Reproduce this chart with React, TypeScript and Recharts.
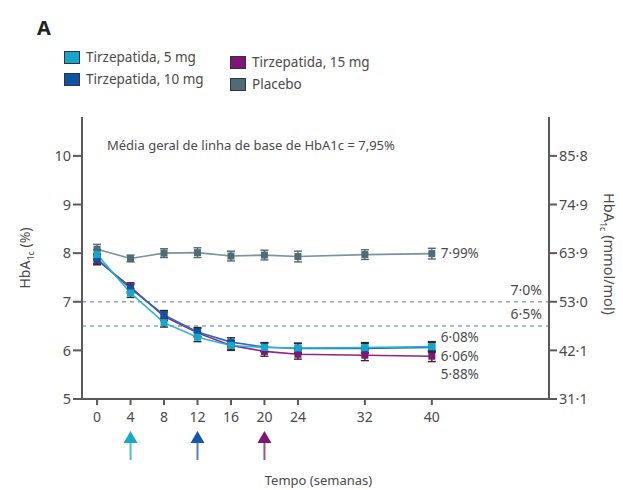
import React from "react";
import {
  ComposedChart,
  ErrorBar,
  LabelList,
  Line,
  ReferenceLine,
  XAxis,
  YAxis,
} from "recharts";

// semanas de tratamento
const WEEKS = [0, 4, 8, 12, 16, 20, 24, 32, 40];

// HbA1c média (%) por braço
const PLACEBO = [8.08, 7.89, 8.0, 8.01, 7.94, 7.96, 7.93, 7.97, 7.99];
const TZP_5 = [7.97, 7.18, 6.57, 6.27, 6.1, 6.06, 6.05, 6.06, 6.08];
const TZP_10 = [7.88, 7.27, 6.73, 6.38, 6.17, 6.07, 6.04, 6.04, 6.06];
const TZP_15 = [7.86, 7.3, 6.7, 6.36, 6.1, 5.98, 5.92, 5.9, 5.88];

// erro padrão (±)
const PLACEBO_ERR = [0.1, 0.07, 0.09, 0.1, 0.1, 0.1, 0.11, 0.1, 0.11];
const TZP_5_ERR = [0.1, 0.09, 0.09, 0.09, 0.09, 0.09, 0.1, 0.1, 0.1];
const TZP_10_ERR = [0.1, 0.09, 0.09, 0.09, 0.09, 0.09, 0.1, 0.1, 0.1];
const TZP_15_ERR = [0.1, 0.09, 0.09, 0.09, 0.1, 0.1, 0.1, 0.11, 0.11];

const LEFT_TICKS = [5, 6, 7, 8, 9, 10];
const RIGHT_TICK_LABELS = ["31·1", "42·1", "53·0", "63·9", "74·9", "85·8"];
const X_TICKS = WEEKS;

// semanas em que cada dose foi atingida
const ARROW_WEEKS = [4, 12, 20];
const ARROW_COLORS = ["#1aa6cb", "#1558a3", "#7f1675"];

const TARGET_LINES = [7.0, 6.5];
const TARGET_LABELS = ["7·0%", "6·5%"];

const FONT = "'Noto Sans', 'Open Sans', sans-serif";
const TEXT = "#4a4a4a";
const AXIS = "#5a5a5a";

const SERIES = [
  { key: "p", name: "Placebo", color: "#4f6b74", line: "#78939b", values: PLACEBO, err: PLACEBO_ERR, end: "7·99%", dy: 0 },
  { key: "t15", name: "Tirzepatida, 15 mg", color: "#7f1675", line: "#8e2483", values: TZP_15, err: TZP_15_ERR, end: "5·88%", dy: 18 },
  { key: "t10", name: "Tirzepatida, 10 mg", color: "#0d55a3", line: "#2a6bb4", values: TZP_10, err: TZP_10_ERR, end: "6·06%", dy: 9 },
  { key: "t5", name: "Tirzepatida, 5 mg", color: "#17a6cb", line: "#29b2d4", values: TZP_5, err: TZP_5_ERR, end: "6·08%", dy: -9 },
];

const LEGEND_LEFT = ["t5", "t10"];
const LEGEND_RIGHT = ["t15", "p"];

const rows = WEEKS.map((w, i) => {
  const row: Record<string, number> = { week: w };
  for (const s of SERIES) {
    row[s.key] = s.values[i];
    row[s.key + "_err"] = s.err[i];
  }
  return row;
});

function squareDot(color: string) {
  return (props: any) => {
    const { cx, cy, index } = props;
    if (cx == null || cy == null) return <g key={index} />;
    return <rect key={index} x={cx - 3.5} y={cy - 3.5} width={7} height={7} fill={color} />;
  };
}

function endLabel(text: string, dy: number) {
  return (props: any) => {
    const { x, y, index } = props;
    if (index !== WEEKS.length - 1) return null;
    return (
      <text x={Number(x) + 9} y={Number(y) + dy} dy="0.35em" fontSize={13.5} fill={TEXT} fontFamily={FONT}>
        {text}
      </text>
    );
  };
}

function WeekTick(props: any) {
  const { x, y, payload } = props;
  const i = ARROW_WEEKS.indexOf(payload.value);
  return (
    <g>
      <text x={x} y={y + 15} textAnchor="middle" fontSize={14} fill={TEXT} fontFamily={FONT}>
        {payload.value}
      </text>
      {i >= 0 ? (
        <g>
          <line x1={x} x2={x} y1={y + 33} y2={y + 53} stroke={ARROW_COLORS[i]} strokeWidth={2} opacity={0.75} />
          <polygon points={`${x - 7},${y + 36} ${x + 7},${y + 36} ${x},${y + 24}`} fill={ARROW_COLORS[i]} />
        </g>
      ) : null}
    </g>
  );
}

function LeftTitle(props: any) {
  const { viewBox } = props;
  const cx = 25;
  const cy = viewBox.y + viewBox.height / 2;
  return (
    <text x={cx} y={cy} transform={`rotate(-90 ${cx} ${cy})`} textAnchor="middle" dy="0.35em" fontSize={14} fill={TEXT} fontFamily={FONT}>
      HbA<tspan fontSize={9} dy={4}>1c</tspan>
      <tspan dy={-4}> (%)</tspan>
    </text>
  );
}

function RightTitle(props: any) {
  const { viewBox } = props;
  const cx = 609;
  const cy = viewBox.y + viewBox.height / 2 - 4;
  return (
    <text x={cx} y={cy} transform={`rotate(90 ${cx} ${cy})`} textAnchor="middle" dy="0.35em" fontSize={14.5} fill={TEXT} fontFamily={FONT}>
      HbA<tspan fontSize={9} dy={4}>1c</tspan>
      <tspan dy={-4}> (mmol/mol)</tspan>
    </text>
  );
}

function BottomTitle(props: any) {
  const { viewBox } = props;
  return (
    <text x={viewBox.x + viewBox.width / 2 + 3} y={viewBox.y + 86} textAnchor="middle" fontSize={13} fill={TEXT} fontFamily={FONT}>
      Tempo (semanas)
    </text>
  );
}

function LegendItem({ k }: { k: string }) {
  const s = SERIES.find((d) => d.key === k)!;
  return (
    <div style={{ display: "flex", alignItems: "center", height: 22 }}>
      <span style={{ width: 16, height: 13, background: s.color, border: "1px solid #333", boxSizing: "border-box", marginRight: 6 }} />
      <span style={{ fontSize: 13.5, color: TEXT }}>{s.name}</span>
    </div>
  );
}

export default function App() {
  const tickStyle = { fontSize: 14.5, fill: TEXT, fontFamily: FONT };
  return (
    <div style={{ position: "absolute", left: 0, top: 0, width: 623, height: 490, background: "#fff", fontFamily: FONT }}>
      <div style={{ position: "absolute", left: 37, top: 14, fontSize: 20, fontWeight: 700, color: "#222" }}>A</div>
      <div style={{ position: "absolute", left: 64, top: 46 }}>
        {LEGEND_LEFT.map((k) => (
          <LegendItem key={k} k={k} />
        ))}
      </div>
      <div style={{ position: "absolute", left: 230, top: 51 }}>
        {LEGEND_RIGHT.map((k) => (
          <LegendItem key={k} k={k} />
        ))}
      </div>
      <div style={{ position: "absolute", left: 107, top: 136, fontSize: 13, color: TEXT }}>
        Média geral de linha de base de HbA1c = 7,95%
      </div>
      <ComposedChart
        width={623}
        height={490}
        data={rows}
        margin={{ top: 117, right: 14, bottom: 61, left: 22 }}
      >
        <XAxis
          dataKey="week"
          type="number"
          domain={[-1.8, 54]}
          ticks={X_TICKS}
          allowDataOverflow
          tickSize={6}
          height={30}
          stroke={AXIS}
          strokeWidth={2}
          tick={<WeekTick />}
          label={<BottomTitle />}
        />
        <YAxis
          yAxisId="l"
          domain={[5, 10.8]}
          ticks={LEFT_TICKS}
          allowDataOverflow
          width={60}
          tickSize={9}
          stroke={AXIS}
          strokeWidth={2}
          tick={tickStyle}
          label={<LeftTitle />}
        />
        <YAxis
          yAxisId="r"
          orientation="right"
          domain={[5, 10.8]}
          ticks={LEFT_TICKS}
          allowDataOverflow
          width={60}
          tickSize={8}
          stroke={AXIS}
          strokeWidth={2}
          tick={tickStyle}
          tickFormatter={(v: number) => RIGHT_TICK_LABELS[LEFT_TICKS.indexOf(v)] ?? ""}
          label={<RightTitle />}
        />
        {TARGET_LINES.map((v, i) => (
          <ReferenceLine
            key={v}
            yAxisId="l"
            y={v}
            stroke="#8ba6ae"
            strokeWidth={1.5}
            strokeDasharray="4 4"
            label={{ value: TARGET_LABELS[i], position: "insideBottomRight", offset: 7, fontSize: 14, fill: TEXT, fontFamily: FONT }}
          />
        ))}
        {SERIES.map((s) => (
          <Line
            key={s.key}
            yAxisId="l"
            dataKey={s.key}
            name={s.name}
            stroke={s.line}
            strokeWidth={1.6}
            dot={squareDot(s.color)}
            activeDot={false}
            isAnimationActive={false}
          >
            <ErrorBar dataKey={s.key + "_err"} direction="y" width={4} strokeWidth={1.4} stroke={s.key === "p" ? s.color : "#2a2a2a"} />
            <LabelList dataKey={s.key} content={endLabel(s.end, s.dy)} />
          </Line>
        ))}
      </ComposedChart>
    </div>
  );
}
